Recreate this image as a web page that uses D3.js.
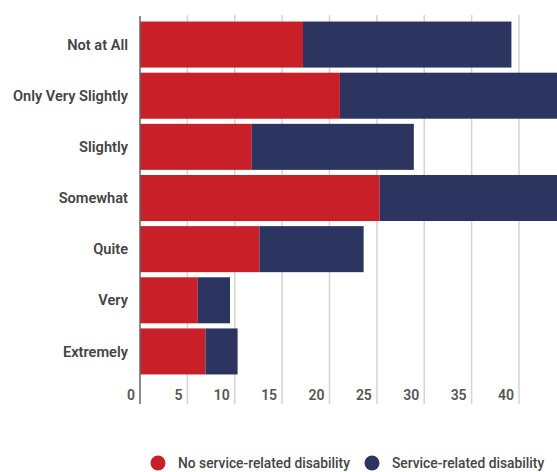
<!DOCTYPE html>
<html>
<head>
<meta charset="utf-8">
<script src="https://cdn.jsdelivr.net/npm/d3@7"></script>
<style>
  body { margin: 0; background: #fff; }
  text { font-family: Roboto, "Noto Sans", sans-serif; }
</style>
</head>
<body>
<div id="chart"></div>
<script>
// Data
var categories = ["Not at All", "Only Very Slightly", "Slightly", "Somewhat", "Quite", "Very", "Extremely"];
var noService = [17.2, 21.1, 11.8, 25.3, 12.6, 6.1, 6.9];
var service = [22.0, 24.5, 17.1, 22.0, 11.0, 3.4, 3.4];
var seriesNames = ["No service-related disability", "Service-related disability"];
var tickValues = [0, 5, 10, 15, 20, 25, 30, 35, 40];

var colors = ["#c81f28", "#2b3560"];

var width = 557, height = 472;
var margin = { left: 140, top: 20, bottom: 97 };

var svg = d3.select("#chart")
    .append("svg")
    .attr("width", width)
    .attr("height", height);

// Scales
var x = d3.scaleLinear().domain([0, 40]).range([margin.left, 519]);
var y = d3.scaleBand()
    .domain(categories)
    .range([margin.top, 376])
    .paddingInner(0.1)
    .paddingOuter(0.03);

// Gridlines
svg.append("g")
    .selectAll("line")
    .data(tickValues.slice(1))
    .join("line")
    .attr("x1", function(d){ return x(d); })
    .attr("x2", function(d){ return x(d); })
    .attr("y1", 15)
    .attr("y2", 404)
    .attr("stroke", "#d4d4d4")
    .attr("stroke-width", 1.5);

// Stacked bars
var rows = categories.map(function(c, i){
    return { cat: c, a: noService[i], b: service[i] };
});
var stack = d3.stack().keys(["a", "b"]);
var layers = stack(rows);

svg.append("g")
    .selectAll("g")
    .data(layers)
    .join("g")
    .attr("fill", function(d, i){ return colors[i]; })
    .selectAll("rect")
    .data(function(d){ return d; })
    .join("rect")
    .attr("x", function(d){ return x(d[0]); })
    .attr("width", function(d){ return x(d[1]) - x(d[0]); })
    .attr("y", function(d){ return y(d.data.cat); })
    .attr("height", y.bandwidth());

// Axis line
svg.append("line")
    .attr("x1", x(0)).attr("x2", x(0))
    .attr("y1", 16).attr("y2", 404)
    .attr("stroke", "#666")
    .attr("stroke-width", 1.5);

// Category labels
svg.append("g")
    .selectAll("text")
    .data(categories)
    .join("text")
    .attr("x", 128)
    .attr("y", function(d){ return y(d) + y.bandwidth() / 2; })
    .attr("dy", "0.35em")
    .attr("text-anchor", "end")
    .attr("font-size", "14.6px")
    .attr("font-weight", 600)
    .attr("fill", "#444")
    .text(function(d){ return d; });

// Tick labels (sit just left of each gridline)
svg.append("g")
    .selectAll("text")
    .data(tickValues)
    .join("text")
    .attr("x", function(d){ return x(d) - 5; })
    .attr("y", 395)
    .attr("dy", "0.35em")
    .attr("text-anchor", "end")
    .attr("font-size", "14px")
    .attr("font-weight", 600)
    .attr("fill", "#555")
    .text(function(d){ return d; });

// Legend
var legendX = [158, 372];
var legend = svg.append("g")
    .selectAll("g")
    .data(seriesNames)
    .join("g")
    .attr("transform", function(d, i){ return "translate(" + legendX[i] + ",463)"; });
legend.append("circle")
    .attr("r", 7.5)
    .attr("fill", function(d, i){ return colors[i]; });
legend.append("text")
    .attr("x", 20)
    .attr("dy", "0.35em")
    .attr("font-size", "13.8px")
    .attr("font-weight", 500)
    .attr("fill", "#444")
    .text(function(d){ return d; });
</script>
</body>
</html>
